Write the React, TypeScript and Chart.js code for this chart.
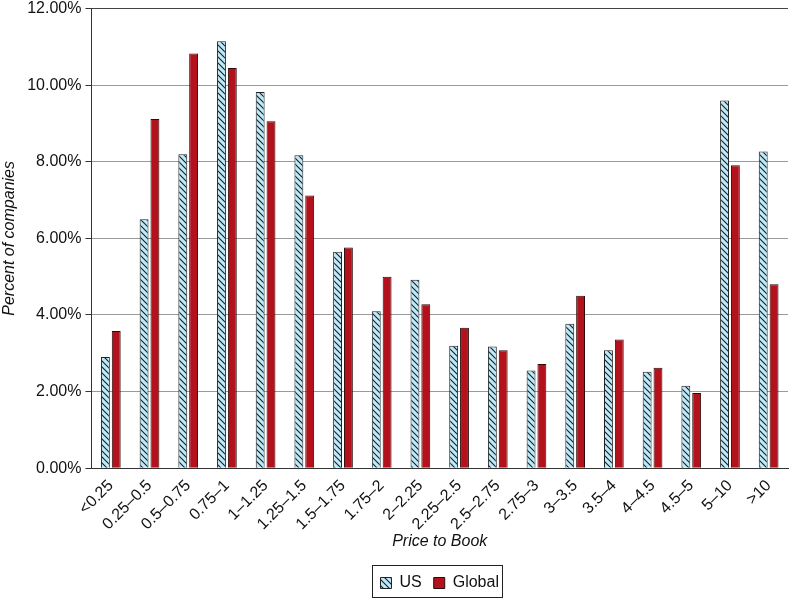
import React, { useEffect, useRef } from 'react'
import { Chart, registerables } from 'chart.js'

Chart.register(...registerables)

// Price-to-book buckets and share of companies in each (percent)
const categories = [
  '<0.25', '0.25–0.5', '0.5–0.75', '0.75–1', '1–1.25', '1.25–1.5', '1.5–1.75',
  '1.75–2', '2–2.25', '2.25–2.5', '2.5–2.75', '2.75–3', '3–3.5', '3.5–4',
  '4–4.5', '4.5–5', '5–10', '>10',
]
const usValues = [
  2.9, 6.5, 8.2, 11.15, 9.82, 8.17, 5.65, 4.1, 4.92, 3.2, 3.18, 2.55, 3.77,
  3.08, 2.52, 2.15, 9.6, 8.27,
]
const globalValues = [
  3.58, 9.12, 10.83, 10.45, 9.06, 7.12, 5.76, 5.0, 4.28, 3.67, 3.08, 2.72,
  4.5, 3.36, 2.62, 1.96, 7.91, 4.8,
]
const yTicks = [0, 2, 4, 6, 8, 10, 12]

const FONT = '"Liberation Sans", Arial, Helvetica, sans-serif'

// hatched light blue fill for the US bars
function makeHatch(): CanvasPattern | string {
  const size = 6
  const tile = document.createElement('canvas')
  tile.width = size
  tile.height = size
  const c = tile.getContext('2d')
  if (!c) return '#bfe9f7'
  c.fillStyle = '#bfe9f7'
  c.fillRect(0, 0, size, size)
  c.strokeStyle = '#15202a'
  c.lineWidth = 1.1
  c.beginPath()
  c.moveTo(0, 0)
  c.lineTo(size, size)
  c.moveTo(-1, size - 1)
  c.lineTo(1, size + 1)
  c.moveTo(size - 1, -1)
  c.lineTo(size + 1, 1)
  c.stroke()
  return c.createPattern(tile, 'repeat') || '#bfe9f7'
}

// centres the legend under the plot area and draws a frame round it
const legendFrame = {
  id: 'legendFrame',
  afterUpdate(chart: any) {
    const legend = chart.legend
    if (!legend) return
    const dx = (chart.chartArea.left + chart.chartArea.right) / 2 - (legend.left + legend.right) / 2
    legend.left += dx
    legend.right += dx
    legend.legendHitBoxes.forEach((b: any) => {
      b.left += dx
    })
  },
  afterDraw(chart: any) {
    const boxes = chart.legend?.legendHitBoxes
    if (!boxes || !boxes.length) return
    const left = Math.min(...boxes.map((b: any) => b.left)) - 8
    const right = Math.max(...boxes.map((b: any) => b.left + b.width)) + 4
    const mid = boxes[0].top + boxes[0].height / 2
    const top = mid - 18
    const bottom = mid + 14
    const ctx = chart.ctx
    ctx.save()
    ctx.strokeStyle = '#222'
    ctx.lineWidth = 1
    ctx.strokeRect(Math.round(left) + 0.5, Math.round(top) + 0.5, Math.round(right - left), Math.round(bottom - top))
    ctx.restore()
  },
}

export default function App() {
  const canvasRef = useRef<HTMLCanvasElement>(null)

  useEffect(() => {
    if (!canvasRef.current) return
    const hatch = makeHatch()

    const chart = new Chart(canvasRef.current, {
      type: 'bar',
      data: {
        labels: categories,
        datasets: [
          {
            label: 'US',
            data: usValues,
            backgroundColor: hatch as any,
            borderColor: '#222',
            borderWidth: 1,
            categoryPercentage: 0.56,
            barPercentage: 0.82,
          },
          {
            label: 'Global',
            data: globalValues,
            backgroundColor: '#b3121c',
            borderColor: '#2a0a0a',
            borderWidth: 1,
            categoryPercentage: 0.56,
            barPercentage: 0.82,
          },
        ],
      },
      options: {
        animation: false,
        responsive: true,
        maintainAspectRatio: false,
        layout: { padding: { top: 0, right: 1, left: 0, bottom: 0 } },
        plugins: {
          tooltip: { enabled: false },
          legend: {
            position: 'bottom',
            labels: {
              color: '#111',
              font: { family: FONT, size: 16 },
              boxWidth: 11,
              boxHeight: 11,
              padding: 12,
            },
          },
        },
        scales: {
          x: {
            grid: { display: false },
            border: { display: true, color: '#333', width: 1 },
            ticks: {
              color: '#111',
              font: { family: FONT, size: 16 },
              minRotation: 45,
              maxRotation: 45,
              autoSkip: false,
              padding: 0,
            },
            title: {
              display: true,
              text: 'Price to Book',
              color: '#111',
              font: { family: FONT, size: 16, style: 'italic' },
              padding: { top: -2, bottom: 12 },
            },
          },
          y: {
            min: 0,
            max: 12,
            afterBuildTicks: (axis: any) => {
              axis.ticks = yTicks.map((v) => ({ value: v }))
            },
            grid: {
              color: (ctx: any) => (ctx.tick && ctx.tick.value === 12 ? '#444' : '#9a9a9a'),
              tickColor: '#333',
              tickLength: 6,
            },
            border: { display: true, color: '#333', width: 1 },
            ticks: {
              color: '#111',
              font: { family: FONT, size: 16 },
              padding: 4,
              callback: (v: any) => Number(v).toFixed(2) + '%',
            },
            title: {
              display: true,
              text: 'Percent of companies',
              color: '#111',
              font: { family: FONT, size: 16, style: 'italic' },
              padding: { top: 0, bottom: 4 },
            },
          },
        },
      },
      plugins: [legendFrame],
    })

    return () => chart.destroy()
  }, [])

  return (
    <div style={{ position: 'fixed', left: 0, top: -5, width: 789, height: 606, background: '#fff' }}>
      <canvas ref={canvasRef}></canvas>
    </div>
  )
}
